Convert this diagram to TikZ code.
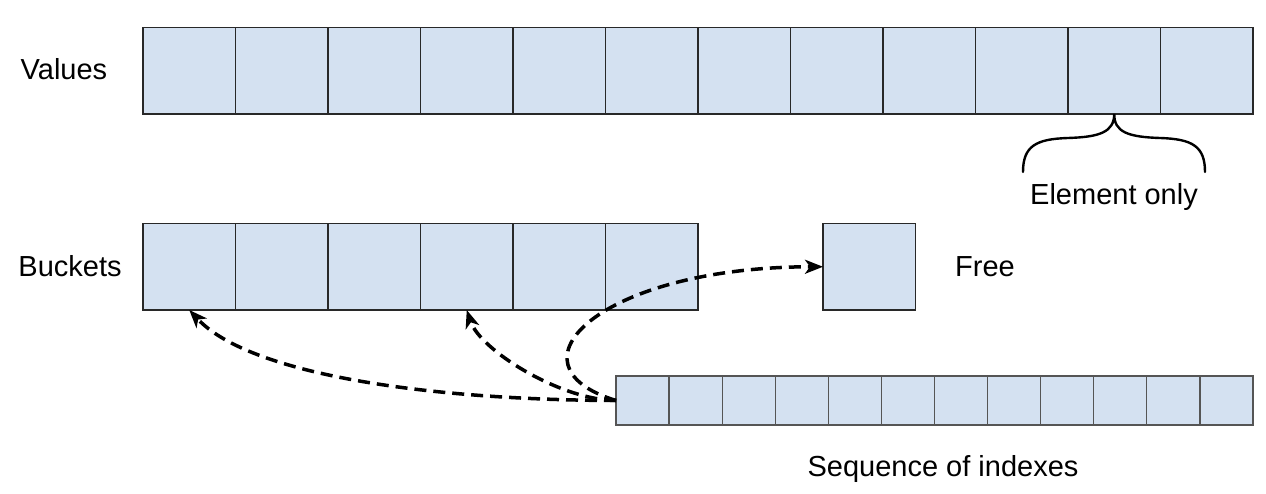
\documentclass[tikz,border=0pt]{standalone}
\usepackage{fontspec}
\setmainfont{Liberation Sans}
\usetikzlibrary{arrows.meta}
\definecolor{cellfill}{RGB}{212,225,241}
\definecolor{cellline}{RGB}{40,40,40}
\definecolor{seqline}{RGB}{85,85,85}
\begin{document}
\begin{tikzpicture}[x=1pt,y=-1pt,
  cell/.style={draw=cellline, fill=cellfill, line width=1.3pt, minimum width=92.5pt, minimum height=86.5pt, inner sep=0pt, outer sep=0pt, anchor=north west},
  scell/.style={cell, draw=seqline, minimum width=53.08pt, minimum height=49pt},
  lbl/.style={font=\fontsize{29}{35}\selectfont, inner sep=0pt, anchor=base},
  ptr/.style={line width=3.5pt, dash pattern=on 12pt off 7pt, -{Stealth[length=18pt,width=14pt,inset=5pt]}},
  bracestyle/.style={line width=2.4pt, line cap=round}]
\useasboundingbox (0,0) rectangle (1266,494);
% Values row
\foreach \i in {1,...,12} \node[cell] (v\i) at ({143+(\i-1)*92.5},27.5) {};
% Buckets row
\foreach \i in {1,...,6} \node[cell] (b\i) at ({143+(\i-1)*92.5},223.5) {};
% Free cell
\node[cell] (free) at (823,223.5) {};
% Sequence of indexes
\foreach \i in {1,...,12} \node[scell] (s\i) at ({616+(\i-1)*53.08},376) {};
% Labels
\node[lbl] (lvalues) at (64,80) {Values};
\node[lbl] (lbuckets) at (70,277) {Buckets};
\node[lbl] (lfree) at (985,277) {Free};
\node[lbl] (lelem) at (1114,205) {Element only};
\node[lbl] (lseq) at (943,476) {Sequence of indexes};
% Brace
\draw[bracestyle] (1023,172) .. controls (1023,146) and (1036,139) .. (1068,138)
  .. controls (1100,137) and (1114,132) .. (v11.south)
  .. controls (1114,132) and (1128,137) .. (1160,138)
  .. controls (1192,139) and (1205,146) .. (1205,172);
% Pointers
\draw[ptr] (s1.west) .. controls (430,400) and (250,375) .. (b1.south);
\draw[ptr] (s1.west) .. controls (560,400) and (480,350) .. (b4.south);
\draw[ptr] (s1.west) .. controls (500,365) and (600,267) .. (free.west);
\end{tikzpicture}
\end{document}
